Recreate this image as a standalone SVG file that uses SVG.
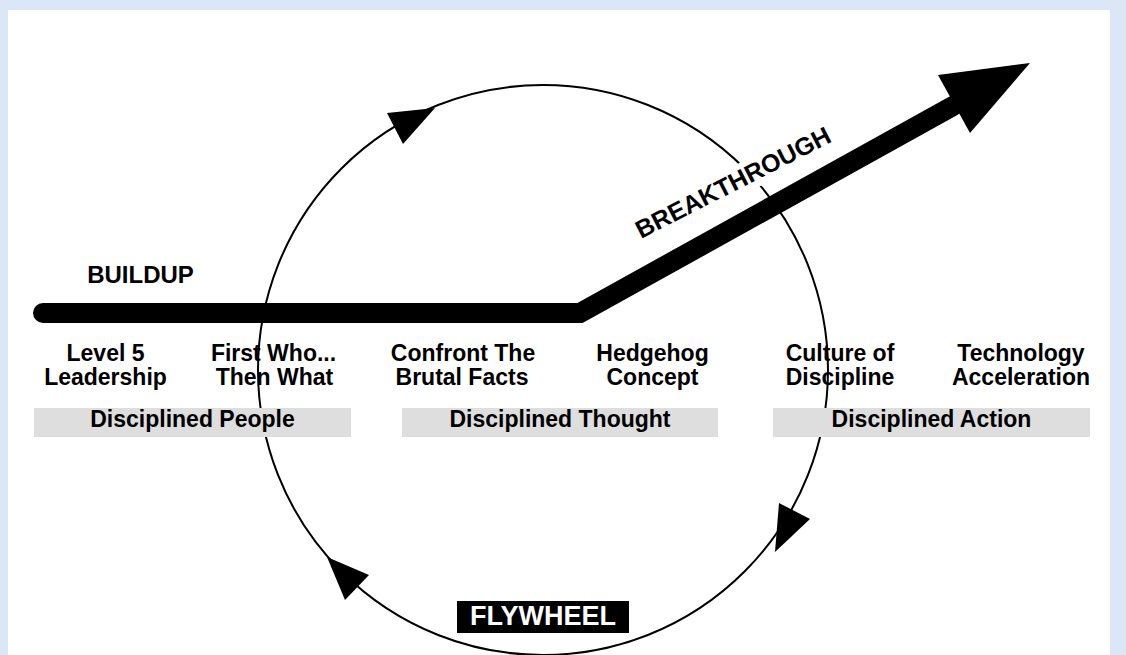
<svg xmlns="http://www.w3.org/2000/svg" width="1126" height="655" viewBox="0 0 1126 655">
  <style>
    text { font-family: "Liberation Sans", Arial, Helvetica, sans-serif; font-weight: bold; fill: #000; }
    .lbl { font-size: 23px; text-anchor: middle; }
    .bar { fill: #dedede; }
    .wheel { fill: none; stroke: #000; stroke-width: 2; }
    .head { fill: #000; }
  </style>
  <rect x="0" y="0" width="1126" height="655" fill="#dbe7f7"/>
  <rect x="8" y="10" width="1102" height="645" fill="#ffffff"/>

  <g id="label-level5"><text class="lbl" x="105.5" y="361">Level 5</text><text class="lbl" x="105.5" y="385">Leadership</text></g>
  <g id="label-firstwho"><text class="lbl" x="273.5" y="361">First Who...</text><text class="lbl" x="274.5" y="385">Then What</text></g>
  <g id="label-confront"><text class="lbl" x="463" y="361">Confront The</text><text class="lbl" x="462" y="385">Brutal Facts</text></g>
  <g id="label-hedgehog"><text class="lbl" x="652.5" y="361">Hedgehog</text><text class="lbl" x="652.5" y="385">Concept</text></g>
  <g id="label-culture"><text class="lbl" x="840" y="361">Culture of</text><text class="lbl" x="840" y="385">Discipline</text></g>
  <g id="label-technology"><text class="lbl" x="1021" y="361">Technology</text><text class="lbl" x="1021" y="385">Acceleration</text></g>

  <g id="connectors">
    <g id="flywheel-circle">
      <circle class="wheel" cx="543" cy="370" r="285"/>
      <polygon class="head" points="435,108 387,113 403,144"/>
      <polygon class="head" points="775,552 779,503 810,519"/>
      <polygon class="head" points="327,557 369,575 345,600"/>
    </g>
    <g id="buildup-breakthrough-arrow">
      <polyline points="43,313 580,313 953,106" fill="none" stroke="#000" stroke-width="20" stroke-linecap="round" stroke-linejoin="miter"/>
      <polygon class="head" points="1030,63 938,75 970,133"/>
    </g>
  </g>

  <g id="disciplined-people"><rect class="bar" x="34" y="408" width="317" height="29"/><text class="lbl" x="192.5" y="427">Disciplined People</text></g>
  <g id="disciplined-thought"><rect class="bar" x="402" y="408" width="316" height="29"/><text class="lbl" x="560" y="427">Disciplined Thought</text></g>
  <g id="disciplined-action"><rect class="bar" x="773" y="408" width="317" height="29"/><text class="lbl" x="931.5" y="427">Disciplined Action</text></g>

  <g id="buildup"><text x="140.5" y="283" font-size="24" text-anchor="middle">BUILDUP</text></g>
  <g id="breakthrough" transform="translate(641,239) rotate(-27)">
    <rect x="-4" y="-23" width="223" height="30" fill="#ffffff"/>
    <text x="0" y="0" font-size="25">BREAKTHROUGH</text>
  </g>
  <g id="flywheel"><rect x="457" y="601" width="172" height="32" fill="#000"/><text x="543" y="625" font-size="27" text-anchor="middle" style="fill:#fff">FLYWHEEL</text></g>
</svg>
